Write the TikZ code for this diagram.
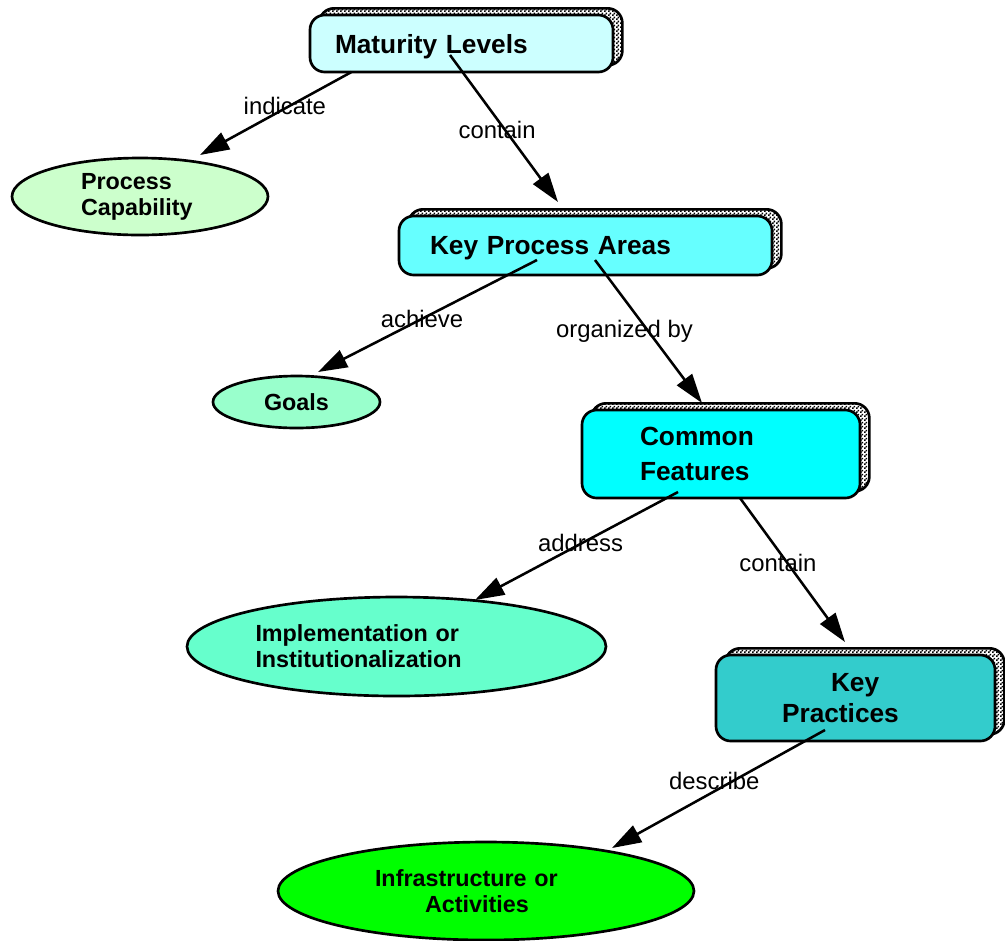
\documentclass[tikz,border=0pt]{standalone}
\usepackage{fontspec}
\setmainfont{Liberation Sans}
\usetikzlibrary{arrows.meta,calc,shapes.geometric,shadows,patterns}

\definecolor{mlfill}{HTML}{CCFFFF}
\definecolor{kpafill}{HTML}{66FFFF}
\definecolor{cffill}{HTML}{00FFFF}
\definecolor{kpfill}{HTML}{33CCCC}
\definecolor{pcfill}{HTML}{CCFFCC}
\definecolor{goalfill}{HTML}{99FFCC}
\definecolor{implfill}{HTML}{66FFCC}
\definecolor{infrafill}{HTML}{00FF00}

% checker dots for the box shadows
\pgfdeclarepatternformonly{shadowdots}{\pgfpointorigin}{\pgfqpoint{3pt}{3pt}}{\pgfqpoint{3pt}{3pt}}{
  \pgfpathrectangle{\pgfpointorigin}{\pgfqpoint{1.5pt}{1.5pt}}
  \pgfpathrectangle{\pgfqpoint{1.5pt}{1.5pt}}{\pgfqpoint{1.5pt}{1.5pt}}
  \pgfusepath{fill}}

\tikzset{
  cbox/.style={draw, line width=2pt, rounded corners=11pt, fill=#1,
    inner xsep=0pt, inner ysep=2pt,
    font=\fontsize{19.7}{24}\selectfont\bfseries,
    copy shadow={shadow xshift=7pt, shadow yshift=5pt, line width=2pt,
      pattern=shadowdots}},
  cell/.style={ellipse, draw, line width=2pt, fill=#1, inner sep=0pt,
    font=\fontsize{17.5}{19.5}\selectfont\bfseries},
  link/.style={line width=1.9pt, -{Triangle[length=22pt,width=14pt]}},
  lbl/.style={font=\fontsize{17.9}{20}\selectfont, inner sep=0pt, behind path}
}

\begin{document}
\begin{tikzpicture}[x=0.75pt, y=-0.75pt]
\useasboundingbox (0,0) rectangle (1005,940);

% Boxes
\node[cbox=mlfill, minimum width=227.25pt, minimum height=42.75pt, text depth=0pt,
  text width=189.75pt, align=left] (ml) at (461.5,43.5) {Maturity Levels};
\node[cbox=kpafill, minimum width=279.75pt, minimum height=44.25pt, text depth=0pt,
  text width=233.25pt, align=left] (kpa) at (585.5,245.5) {Key Process Areas};
\node[cbox=cffill, minimum width=208.5pt, minimum height=66pt,
  text width=121.5pt, align=left] (cf) at (721,454) {Common\\[2pt]Features};
\node[cbox=kpfill, minimum width=209.25pt, minimum height=64.5pt,
  text width=110.25pt, align=left] (kp) at (855.5,698) {\hspace*{36.75pt}Key\\[-1pt]Practices};

% Ellipses
\node[cell=pcfill, minimum width=192pt, minimum height=57.75pt,
  text width=88.5pt, align=left] (pc) at (140,196.5) {Process\\Capability};
\node[cell=goalfill, minimum width=125.25pt, minimum height=39pt] (goals) at (296.5,402) {Goals};
\node[cell=implfill, minimum width=314.25pt, minimum height=74.25pt,
  text width=211.5pt, align=left] (impl) at (396.5,646.5) {Implementation or\\Institutionalization};
\node[cell=infrafill, minimum width=312pt, minimum height=73.5pt,
  text width=166.5pt, align=left] (infra) at (486,891) {Infrastructure or\\[0.5pt]\hspace*{37.5pt}Activities};

% Links
\draw[link] ($(ml)+(-110,28.5)$) -- node[lbl, pos=0.44, yshift=2pt] {indicate} ($(pc)+(60,-41.5)$);
\draw[link] ($(ml)+(-11.5,11.5)$) -- node[lbl, pos=0.51, xshift=-6pt] {contain} ($(kpa)+(-27.5,-43.5)$);
\draw[link] ($(kpa)+(-48.5,14.5)$) -- node[lbl, pos=0.525] {achieve} ($(goals)+(21.5,-30)$);
\draw[link] ($(kpa)+(9.5,14.5)$) -- node[lbl, pos=0.5, xshift=-18pt] {organized by} ($(cf)+(-19,-51)$);
\draw[link] ($(cf)+(-43,38)$) -- node[lbl, pos=0.48, yshift=1pt] {address} ($(impl)+(78.5,-46.5)$);
\draw[link] ($(cf)+(19,44)$) -- node[lbl, pos=0.45, xshift=-7pt] {contain} ($(kp)+(-10.5,-56)$);
\draw[link] ($(kp)+(-30.5,32)$) -- node[lbl, pos=0.52, yshift=8pt] {describe} ($(infra)+(126,-43)$);
\end{tikzpicture}
\end{document}
